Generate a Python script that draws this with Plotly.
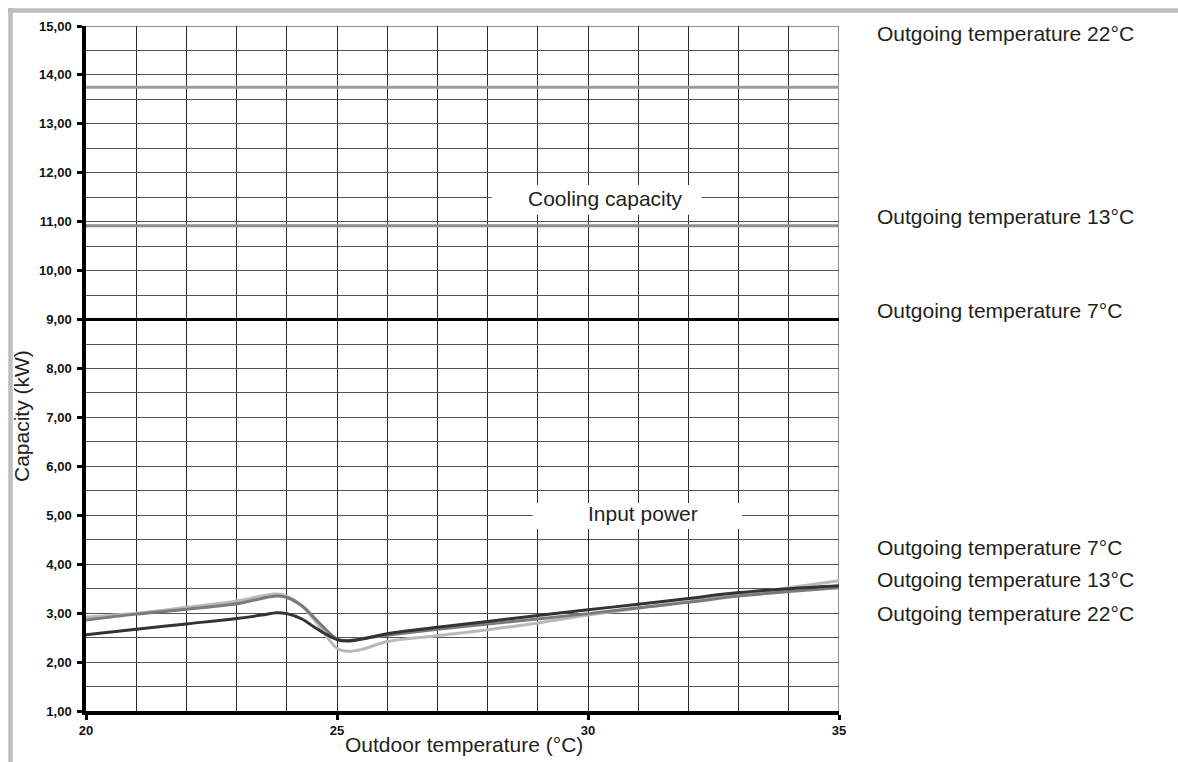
import plotly.graph_objects as go

# ---------------- data ----------------
outdoor_temp = [20, 21, 22, 23, 23.5, 23.8, 24, 24.3, 24.6, 25, 25.2, 25.5, 26,
                27, 28, 29, 30, 31, 32, 33, 34, 35]

power_7 = [2.56, 2.67, 2.78, 2.89, 2.96, 3.01, 2.99, 2.88, 2.68, 2.46, 2.43, 2.47, 2.58,
           2.71, 2.83, 2.95, 3.07, 3.18, 3.30, 3.42, 3.50, 3.56]
power_13 = [2.86, 2.98, 3.08, 3.19, 3.30, 3.35, 3.32, 3.15, 2.85, 2.47, 2.44, 2.48, 2.55,
            2.67, 2.78, 2.88, 2.99, 3.11, 3.22, 3.35, 3.44, 3.52]
power_22 = [2.92, 3.00, 3.12, 3.25, 3.35, 3.39, 3.35, 3.15, 2.80, 2.28, 2.22, 2.26, 2.42,
            2.54, 2.66, 2.80, 2.96, 3.10, 3.24, 3.38, 3.52, 3.66]

cap_x = [20, 35]
cap_7 = [9.00, 9.00]
cap_13 = [10.92, 10.92]
cap_22 = [13.75, 13.75]

y_tick_vals = list(range(1, 16))
y_tick_text = ["<b>%d,00</b>" % v for v in y_tick_vals]
x_tick_vals = [20, 25, 30, 35]
x_tick_text = ["<b>%d</b>" % v for v in x_tick_vals]

right_labels = ["Outgoing temperature 22°C", "Outgoing temperature 13°C",
                "Outgoing temperature 7°C", "Outgoing temperature 7°C",
                "Outgoing temperature 13°C", "Outgoing temperature 22°C"]
right_label_y = [14.84, 11.10, 9.18, 4.35, 3.68, 3.00]

FONT = "Liberation Sans, Arial, sans-serif"
TXT = "#231f20"
FS = 21

fig = go.Figure()

# cooling capacity lines
fig.add_trace(go.Scatter(x=cap_x, y=cap_22, mode="lines", line=dict(color="#9a9a9a", width=3)))
fig.add_trace(go.Scatter(x=cap_x, y=cap_13, mode="lines", line=dict(color="#8c8c8c", width=3)))
fig.add_trace(go.Scatter(x=cap_x, y=cap_7, mode="lines", line=dict(color="#000000", width=3)))

# input power lines
fig.add_trace(go.Scatter(x=outdoor_temp, y=power_22, mode="lines", line_shape="spline",
                         line=dict(color="#b9b9b9", width=3)))
fig.add_trace(go.Scatter(x=outdoor_temp, y=power_13, mode="lines", line_shape="spline",
                         line=dict(color="#7a7a7a", width=3)))
fig.add_trace(go.Scatter(x=outdoor_temp, y=power_7, mode="lines", line_shape="spline",
                         line=dict(color="#333333", width=3)))

L, R, T, B = 86, 339, 26, 51
W, H = 1178, 762
PW, PH = W - L - R, H - T - B


def xp(px):
    return (px - L) / PW


def yp(py):
    return (H - B - py) / PH


shapes = [
    dict(type="line", xref="x", yref="y", x0=20, x1=35, y0=15, y1=15,
         line=dict(color="#6a6a6a", width=1.5), layer="below"),
    dict(type="line", xref="x", yref="y", x0=35, x1=35, y0=1, y1=15,
         line=dict(color="#6a6a6a", width=1.5), layer="below"),
    dict(type="rect", xref="x", yref="y", x0=28.08, x1=32.26, y0=11.14, y1=11.75,
         fillcolor="white", line=dict(width=0), layer="above"),
    dict(type="rect", xref="x", yref="y", x0=28.90, x1=33.07, y0=4.72, y1=5.25,
         fillcolor="white", line=dict(width=0), layer="above"),
    dict(type="line", xref="paper", yref="paper", x0=xp(8), x1=xp(1178), y0=yp(10.5), y1=yp(10.5),
         line=dict(color="#bcbec0", width=4.5)),
    dict(type="line", xref="paper", yref="paper", x0=xp(10.5), x1=xp(10.5), y0=yp(8), y1=yp(762),
         line=dict(color="#bcbec0", width=4.5)),
]

annotations = [
    dict(text="Cooling capacity", x=30.34, y=11.48, xref="x", yref="y", showarrow=False,
         xanchor="center", yanchor="middle", font=dict(family=FONT, size=FS, color=TXT)),
    dict(text="Input power", x=31.1, y=5.03, xref="x", yref="y", showarrow=False,
         xanchor="center", yanchor="middle", font=dict(family=FONT, size=FS, color=TXT)),
    dict(text="Capacity (kW)", x=xp(21), y=yp(416), xref="paper", yref="paper", showarrow=False,
         xanchor="center", yanchor="middle",
         textangle=-90, font=dict(family=FONT, size=FS, color=TXT)),
    dict(text="Outdoor temperature (°C)", x=xp(464), y=yp(745), xref="paper", yref="paper",
         xanchor="center", yanchor="middle",
         showarrow=False, font=dict(family=FONT, size=FS, color=TXT)),
]
for txt, yy in zip(right_labels, right_label_y):
    annotations.append(dict(text=txt, x=xp(875), y=yy, xref="paper", yref="y", xanchor="left",
                            yanchor="middle",
                            showarrow=False, font=dict(family=FONT, size=FS, color=TXT)))

fig.update_layout(
    width=W, height=H,
    margin=dict(l=L, r=R, t=T, b=B),
    paper_bgcolor="white", plot_bgcolor="white",
    showlegend=False,
    shapes=shapes, annotations=annotations,
    xaxis=dict(range=[20, 35], tickvals=x_tick_vals, ticktext=x_tick_text,
               showgrid=True, gridcolor="#2a2a2a", gridwidth=1,
               minor=dict(dtick=1, tick0=20, showgrid=True, gridcolor="#2a2a2a", gridwidth=1),
               showline=True, linecolor="black", linewidth=3.5,
               ticks="outside", ticklen=5, tickwidth=2.5, tickcolor="black",
               ticklabelstandoff=0, zeroline=False, fixedrange=True,
               tickfont=dict(family=FONT, size=13, color="#111")),
    yaxis=dict(range=[1, 15], tickvals=y_tick_vals, ticktext=y_tick_text,
               showgrid=True, gridcolor="#555555", gridwidth=1.3,
               minor=dict(dtick=0.5, tick0=1, showgrid=True, gridcolor="#555555", gridwidth=1.3),
               showline=True, linecolor="black", linewidth=3.5,
               ticks="outside", ticklen=5, tickwidth=3, tickcolor="black",
               ticklabelstandoff=3, zeroline=False, fixedrange=True,
               tickfont=dict(family=FONT, size=13, color="#111")),
)

fig.write_html("out.html")
